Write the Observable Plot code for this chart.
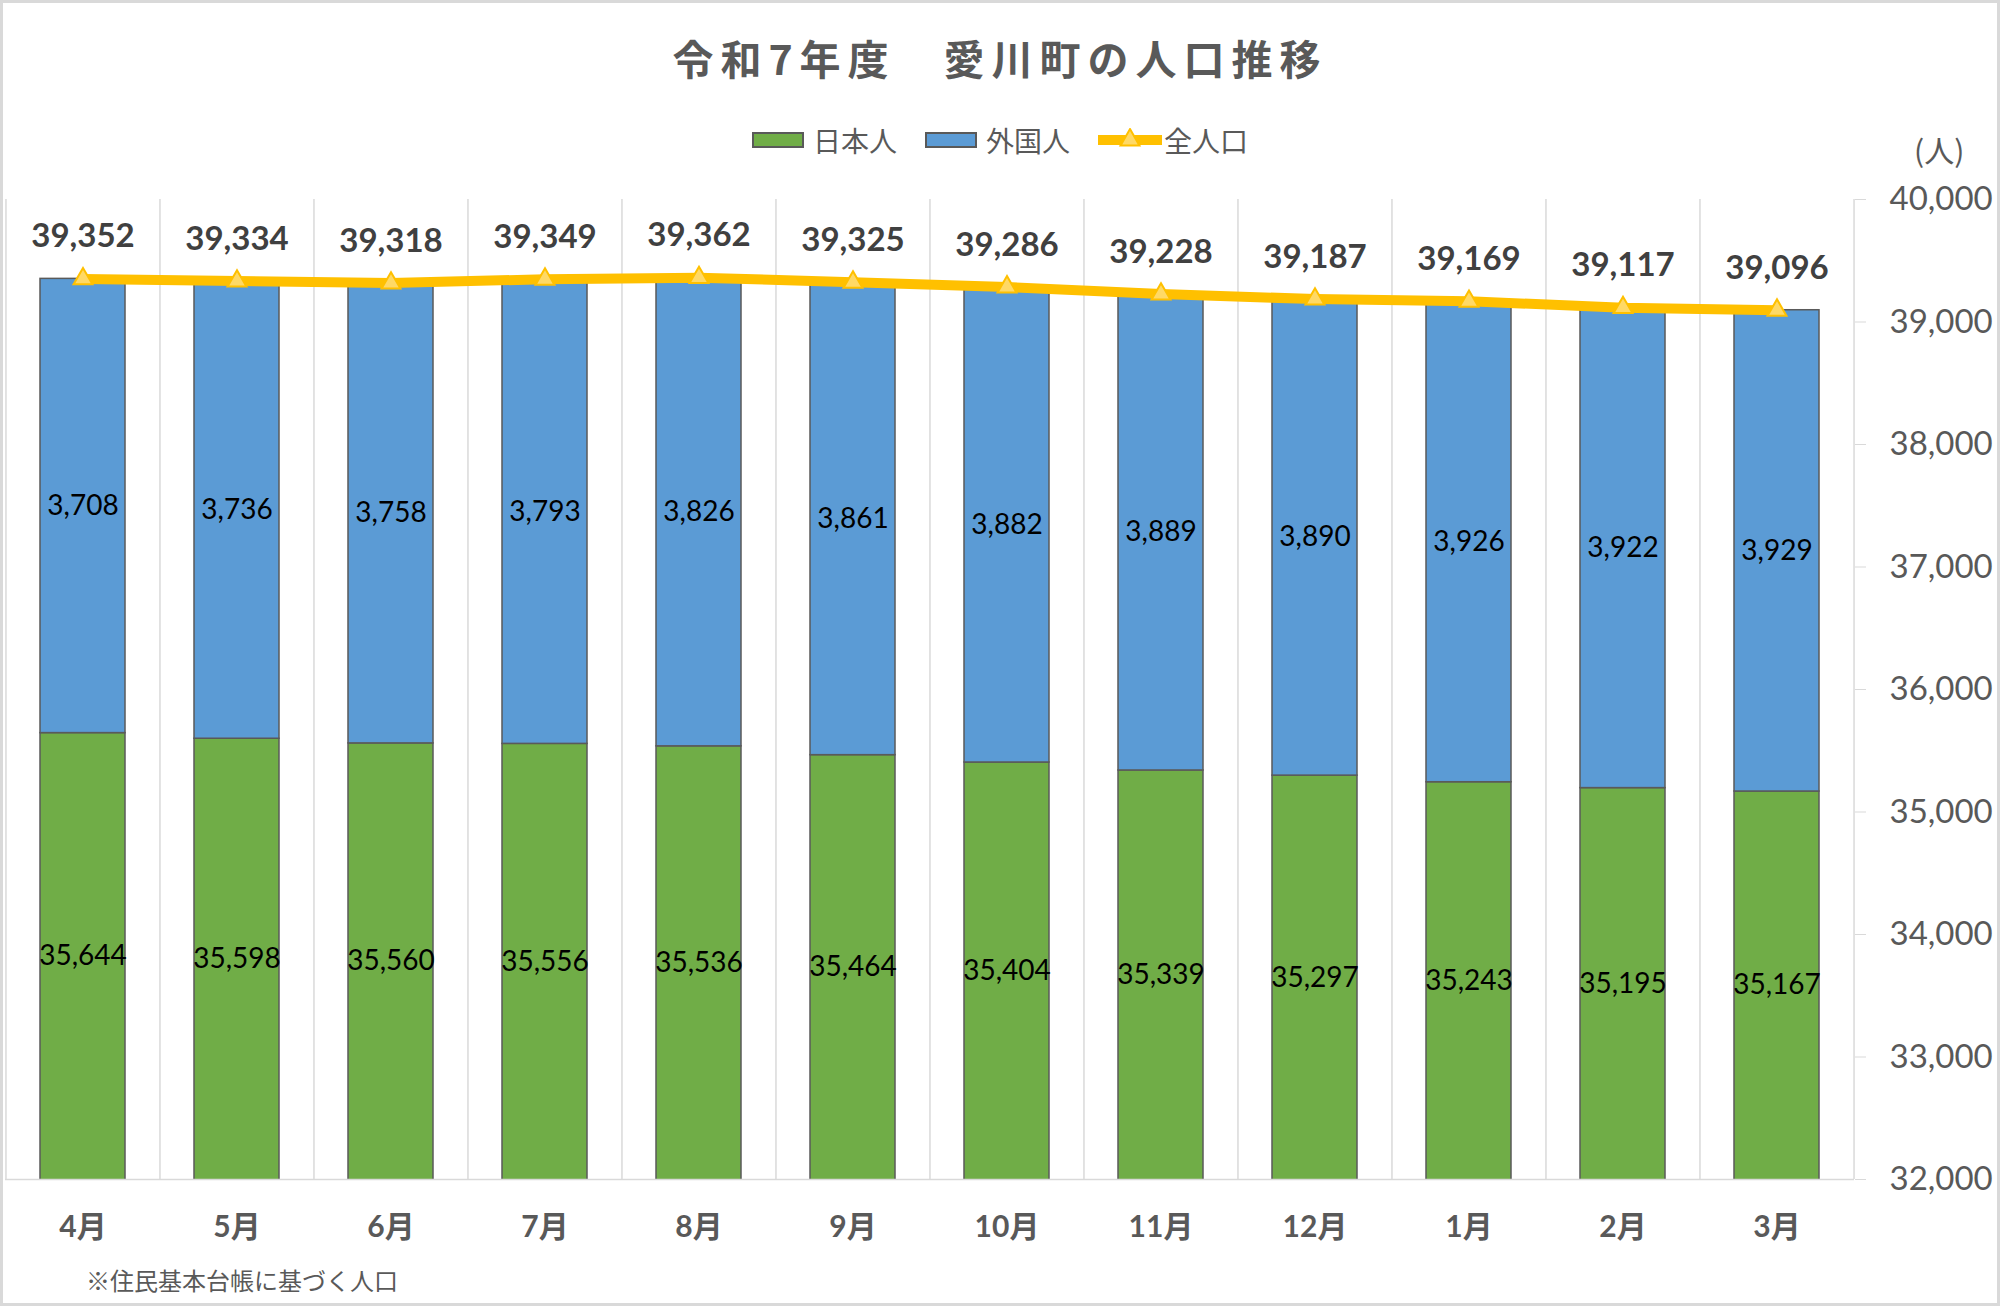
<!DOCTYPE html>
<html lang="ja">
<head>
<meta charset="utf-8">
<script src="https://cdn.jsdelivr.net/npm/d3@7"></script>
<script src="https://cdn.jsdelivr.net/npm/@observablehq/plot@0.6"></script>
<style>
  html, body { margin: 0; padding: 0; background: #fff; }
  #wrap { position: relative; width: 2000px; height: 1306px; background: #fff; overflow: hidden;
          font-family: Lato, "Noto Sans CJK JP", sans-serif; }
  #border { position: absolute; left: 0; top: 0; width: 2000px; height: 1306px; box-sizing: border-box;
            border: 3px solid #d9d9d9; pointer-events: none; }
  #title { position: absolute; left: 0; width: 2000px; top: 29px; text-align: center;
           font-family: "Noto Sans CJK JP", sans-serif; font-weight: bold; font-size: 41px;
           letter-spacing: 7px; color: #595959; line-height: 56px; }
  #legend { position: absolute; left: 0; width: 2000px; top: 122px; display: flex; justify-content: center;
            align-items: center; font-family: "Noto Sans CJK JP", sans-serif; font-size: 28px; color: #595959;
            line-height: 36px; }
  .item { display: flex; align-items: center; margin: 0 14px; }
  .sw { width: 52px; height: 16px; box-sizing: border-box; border: 2px solid #595959; margin-right: 9px; }
  #unit { position: absolute; left: 1914px; top: 129px; font-family: "Noto Sans CJK JP", sans-serif;
          font-size: 30px; color: #595959; line-height: 40px; }
  #note { position: absolute; left: 86px; top: 1264px; font-family: "Noto Sans CJK JP", sans-serif;
          font-size: 24px; color: #595959; line-height: 32px; }
  #chart { position: absolute; left: 0; top: 0; }
</style>
</head>
<body>
<div id="wrap">
  <div id="chart"></div>
  <div id="title">令和7年度　愛川町の人口推移</div>
  <div id="legend"></div>
  <div id="unit">(人)</div>
  <div id="note">※住民基本台帳に基づく人口</div>
  <div id="border"></div>
</div>
<script>
// ---- data ----
const months = ["4月","5月","6月","7月","8月","9月","10月","11月","12月","1月","2月","3月"];
const japanese = [35644,35598,35560,35556,35536,35464,35404,35339,35297,35243,35195,35167];
const foreign  = [3708,3736,3758,3793,3826,3861,3882,3889,3890,3926,3922,3929];
const total    = [39352,39334,39318,39349,39362,39325,39286,39228,39187,39169,39117,39096];
const seriesNames = ["日本人","外国人","全人口"];
const yTicks = [32000,33000,34000,35000,36000,37000,38000,39000,40000];

// ---- colours / layout ----
const colors = {"日本人": "#70AD47", "外国人": "#5B9BD5"};
const lineColor = "#FFC000";
const W = 2000, H = 1306;
const mL = 5, mR = 146, mT = 199, mB = 127;
const step = (W - mL - mR) / months.length;
const yMin = yTicks[0], yMax = yTicks[yTicks.length - 1];
const fmt = d3.format(",");

const rows = months.flatMap((m, i) => [
  {month: m, type: seriesNames[0], value: japanese[i], base: 0},
  {month: m, type: seriesNames[1], value: foreign[i], base: japanese[i]}
]);
const totals = months.map((m, i) => ({month: m, total: total[i]}));

const chart = Plot.plot({
  width: W, height: H,
  marginLeft: mL, marginRight: mR, marginTop: mT, marginBottom: mB,
  style: {fontFamily: 'Lato, "Noto Sans CJK JP", sans-serif', background: "transparent"},
  x: {type: "band", domain: months, paddingInner: 0.45, paddingOuter: 0.225, label: null},
  y: {domain: [yMin, yMax], label: null},
  color: {domain: [seriesNames[0], seriesNames[1]], range: [colors["日本人"], colors["外国人"]]},
  marks: [
    Plot.ruleX(months, {x: d => d, dx: -step / 2, stroke: "#d9d9d9", strokeWidth: 1.5}),
    Plot.ruleX([months[months.length - 1]], {x: d => d, dx: step / 2, stroke: "#d9d9d9", strokeWidth: 1.5}),
    Plot.barY(rows, {x: "month", y: "value", fill: "type", stroke: "#5a5a5a", strokeWidth: 1.5, clip: true}),
    Plot.ruleY([yMin], {stroke: "#d9d9d9", strokeWidth: 1.5}),
    Plot.text(rows, {
      x: "month",
      y: d => (Math.max(d.base, yMin) + d.base + d.value) / 2,
      text: d => fmt(d.value),
      fontSize: 28, fill: "#000"
    }),
    Plot.line(totals, {x: "month", y: "total", stroke: lineColor, strokeWidth: 10, strokeLinejoin: "round", strokeLinecap: "round"}),
    Plot.dot(totals, {x: "month", y: "total", symbol: "triangle", r: 7, fill: "#FFD966", stroke: lineColor, strokeWidth: 2}),
    Plot.text(totals, {x: "month", y: "total", text: d => fmt(d.total), dy: -42,
      fontSize: 33, fontWeight: "bold", fill: "#404040"}),
    Plot.axisY({anchor: "right", ticks: yTicks, tickFormat: fmt, tickSize: 11, tickPadding: 24,
      fontSize: 33, fill: "#595959", stroke: "#d9d9d9", label: null}),
    Plot.axisX({anchor: "bottom", tickSize: 0, tickPadding: 36, fontSize: 30, fontWeight: "bold",
      fill: "#595959", label: null})
  ]
});
document.getElementById("chart").appendChild(chart);

// ---- legend ----
const legend = document.getElementById("legend");
seriesNames.forEach((name, i) => {
  const item = document.createElement("div");
  item.className = "item";
  if (i < 2) {
    const sw = document.createElement("div");
    sw.className = "sw";
    sw.style.background = colors[name];
    item.appendChild(sw);
  } else {
    const ns = "http://www.w3.org/2000/svg";
    const svg = document.createElementNS(ns, "svg");
    svg.setAttribute("width", "64"); svg.setAttribute("height", "24");
    svg.style.marginRight = "2px";
    const ln = document.createElementNS(ns, "line");
    ln.setAttribute("x1", "0"); ln.setAttribute("x2", "64"); ln.setAttribute("y1", "12"); ln.setAttribute("y2", "12");
    ln.setAttribute("stroke", lineColor); ln.setAttribute("stroke-width", "10");
    svg.appendChild(ln);
    const tri = document.createElementNS(ns, "path");
    tri.setAttribute("d", d3.symbol(d3.symbolTriangle, Math.PI * 49)());
    tri.setAttribute("transform", "translate(32,12)");
    tri.setAttribute("fill", "#FFD966"); tri.setAttribute("stroke", lineColor); tri.setAttribute("stroke-width", "2");
    svg.appendChild(tri);
    item.appendChild(svg);
  }
  const t = document.createElement("span");
  t.textContent = name;
  item.appendChild(t);
  legend.appendChild(item);
});
</script>
</body>
</html>
